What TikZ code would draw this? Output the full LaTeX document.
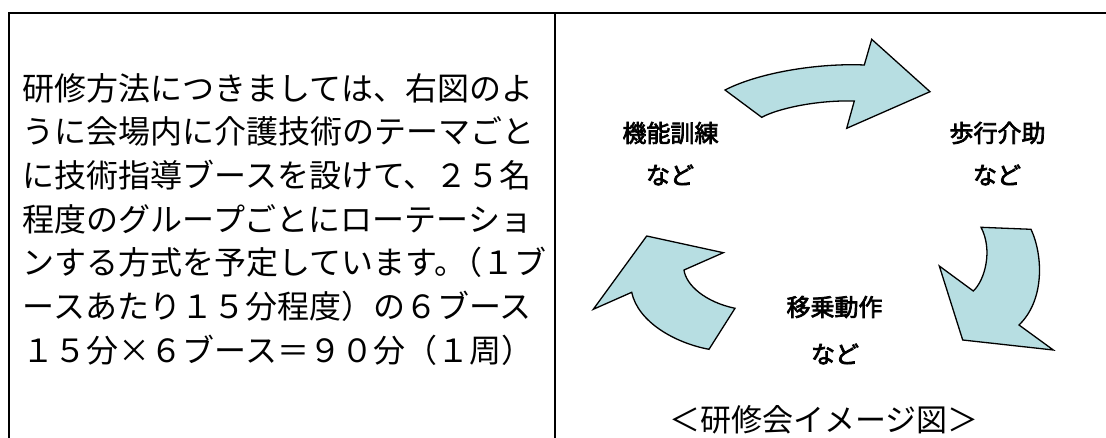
\documentclass[tikz,border=0pt]{standalone}
\usepackage{fontspec}
\newfontfamily\jp{Noto Sans CJK JP}
\newfontfamily\jpfb{Noto Sans CJK JP}[FakeBold=3]
\definecolor{arrowfill}{RGB}{183,222,226}
\tikzset{
  bodyline/.style={anchor=west, inner sep=0pt, font=\jp\fontsize{32}{32}\selectfont},
  lbl/.style={inner sep=0pt, font=\jpfb\fontsize{24}{24}\selectfont},
  captext/.style={inner sep=0pt, font=\jp\fontsize{31}{31}\selectfont},
  blockarrow/.style={draw=black, fill=arrowfill, line width=1.3pt, line join=miter},
  tablerule/.style={line width=2pt}
}
\begin{document}
\begin{tikzpicture}[x=1pt,y=-1pt]
\useasboundingbox (0,0) rectangle (1106,438);
% table frame
\coordinate (tl) at (9,13);
\coordinate (bl) at (9,438);
\coordinate (tr) at (1106,13);
\coordinate (dt) at (555,13);
\coordinate (db) at (555,438);
\draw[tablerule] (bl) -- (tl) -- (tr);
\draw[tablerule] (dt) -- (db);
% body text
\node[bodyline] (t1) at (22.7,88) {研修方法につきましては、右図のよ};
\node[bodyline] (t2) at (22.7,131.7) {うに会場内に介護技術のテーマごと};
\node[bodyline] (t3) at (22.7,175.4) {に技術指導ブースを設けて、２５名};
\node[bodyline] (t4) at (22.7,219.1) {程度のグループごとにローテーショ};
\node[bodyline] (t5) at (22.7,262.8) {ンする方式を予定しています。\kern-0.5em（１ブ};
\node[bodyline] (t6) at (22.7,306.5) {ースあたり１５分程度）の６ブース};
\node[bodyline] (t7) at (22.7,350.2) {１５分\makebox[1em]{×}６ブース＝９０分（１周）};
% arrows
\draw[blockarrow] (725,90) -- (761.7,117.3) .. controls (777,109) and (815,100) .. (854.3,101)
  -- (846.7,128.3) -- (930,91.7) -- (871.7,39.3) -- (864.3,65)
  .. controls (820,63) and (760,72) .. (725,90) -- cycle;
\draw[blockarrow] (981,227.3) -- (1031,229.3) .. controls (1043,255) and (1045,300) .. (1019,325)
  -- (1053.3,350) -- (962.7,340) -- (939.3,266) -- (973.3,291)
  .. controls (985,280) and (993,250) .. (981,227.3) -- cycle;
\draw[blockarrow] (646.7,236) -- (723.3,252.7) -- (684,270) .. controls (686,285) and (705,302) .. (735,308.3)
  -- (709,349.3) .. controls (675,343) and (638,322) .. (631.7,292.3) -- (593.3,309.3) -- cycle;
% labels
\node[lbl] (l1) at (670.5,133) {機能訓練};
\node[lbl] (l1b) at (670,175) {など};
\node[lbl] (l2) at (997.5,133) {歩行介助};
\node[lbl] (l2b) at (997,175) {など};
\node[lbl] (l3) at (834.5,307) {移乗動作};
\node[lbl] (l3b) at (835,354) {など};
\node[captext] (cap) at (824,420) {＜研修会イメージ図＞};
\end{tikzpicture}
\end{document}
